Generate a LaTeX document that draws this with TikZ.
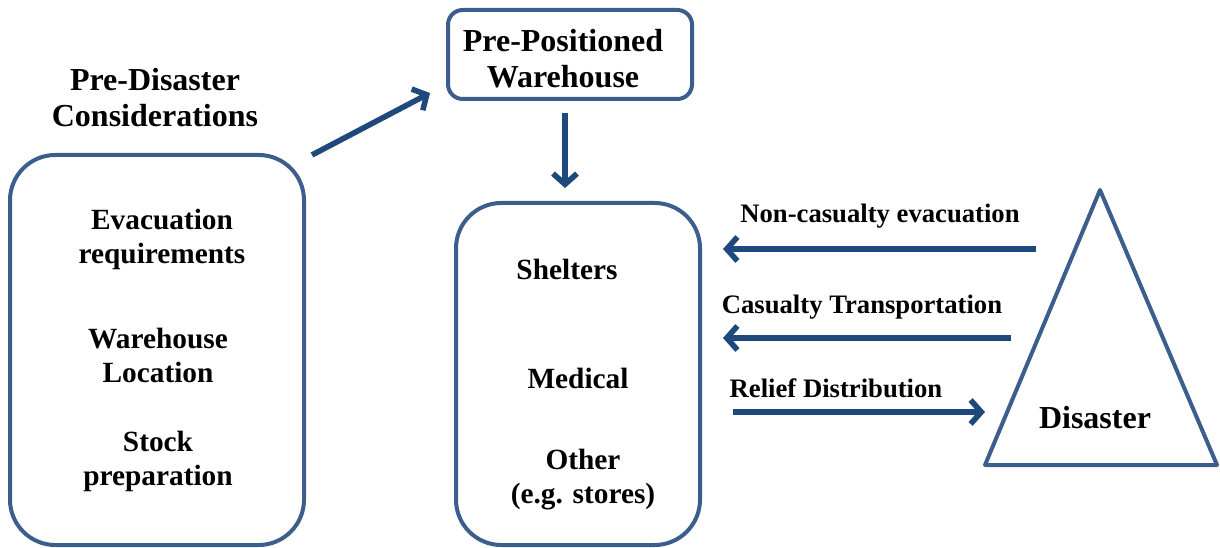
\documentclass[tikz,border=0pt]{standalone}
\usepackage{fontspec}
\setmainfont{Liberation Serif}
\usetikzlibrary{arrows.meta}
\definecolor{boxblue}{HTML}{3B5E8C}
\definecolor{arrowblue}{HTML}{1F497D}
\begin{document}
\begin{tikzpicture}[x=0.75pt,y=-0.75pt,
  box/.style={draw=boxblue,line width=3pt,rounded corners=34pt,inner sep=0pt},
  txt/.style={font=\fontsize{22}{25.5}\selectfont\bfseries,align=center,inner sep=0pt},
  head/.style={font=\fontsize{24}{27}\selectfont\bfseries,align=center,inner sep=0pt},
  lbl/.style={font=\fontsize{20}{23}\selectfont\bfseries,inner sep=0pt},
  arr/.style={draw=arrowblue,line width=4.2pt,-{Straight Barb[length=8pt,width=18pt]}}]
\useasboundingbox (0,0) rectangle (1220,548);
% left box
\node[box,minimum width=220.5pt,minimum height=292.5pt] (left) at (157,350) {};
\node[head] (pre) at (155,98) {Pre-Disaster\\Considerations};
\node[txt] (evac) at (162,239) {Evacuation\\requirements};
\node[txt] (loc) at (158,355) {Warehouse\\Location};
\node[txt] (stock) at (158,461) {Stock\\preparation};
% warehouse box
\node[box,rounded corners=11pt,minimum width=183pt,minimum height=66.75pt] (wh) at (570,54.5) {};
\node[head] (whtext) at (563,59) {Pre-Positioned\\Warehouse};
% middle box
\node[box,minimum width=183pt,minimum height=256.5pt] (mid) at (578,374) {};
\node[txt] (shel) at (567,269) {Shelters};
\node[txt] (med) at (578,378) {Medical};
\node[txt] (oth) at (583,480) {Other\\(e.g. stores)};
% triangle
\coordinate (apex) at (1100,190);
\coordinate (bl) at (985,465);
\coordinate (br) at (1217,465);
\draw[boxblue,line width=3pt,line join=round] (apex)--(bl)--(br)--cycle;
\node[head] (dis) at (1095,418) {Disaster};
% arrows
\coordinate (a1s) at (312,155); \coordinate (a1e) at (430,93);
\coordinate (a2s) at (565,113); \coordinate (a2e) at (565,188);
\coordinate (a3s) at (1036,249); \coordinate (a3e) at (723,249);
\coordinate (a4s) at (1011,338); \coordinate (a4e) at (723,338);
\coordinate (a5s) at (733,412); \coordinate (a5e) at (985,412);
\draw[arr] (a1s) -- (a1e);
\draw[arr] (a2s) -- (a2e);
\draw[arr] (a3s) -- (a3e);
\draw[arr] (a4s) -- (a4e);
\draw[arr] (a5s) -- (a5e);
\node[lbl] (l3) at (880,216) {Non-casualty evacuation};
\node[lbl] (l4) at (862,307) {Casualty Transportation};
\node[lbl] (l5) at (836,388) {Relief Distribution};
\end{tikzpicture}
\end{document}
